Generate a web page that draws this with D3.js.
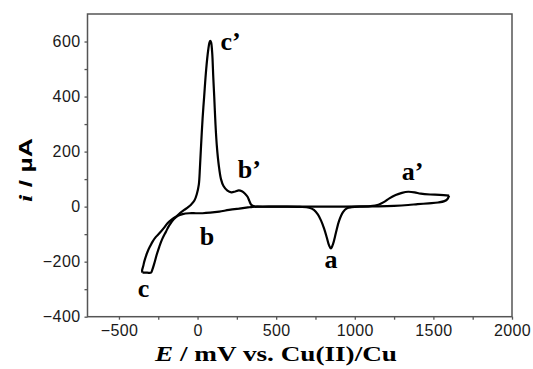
<!DOCTYPE html>
<html>
<head>
<meta charset="utf-8">
<script src="https://cdn.jsdelivr.net/npm/d3@7"></script>
<style>
  html, body { margin: 0; padding: 0; background: #fff; }
  svg { display: block; }
</style>
</head>
<body>
<svg id="chart" width="533" height="369"></svg>
<script>
// Cyclic voltammogram of Cu deposition / stripping (E in mV vs. Cu(II)/Cu, i in µA)

// Cathodic sweep: from the positive vertex down to the negative vertex
const cathodicE = [1600, 1590, 1570, 1530, 1470, 1400, 1340, 1250, 1150, 1050, 980, 950, 925, 900, 880, 862, 848, 836, 822, 805, 785, 765, 740, 710, 650, 550, 450, 380, 350, 320, 265, 200, 138, 80, 32, -10, -53, -95, -125, -150, -180, -201, -225, -243, -260, -275, -287, -296, -320, -350];
const cathodicI = [40, 28, 20, 15, 12, 9, 6, 3, 1, 0, -2, -6, -20, -52, -95, -135, -152, -140, -112, -80, -50, -28, -12, -4, -1, 0, 0, 0, -1, -3, -7, -12, -18, -22, -24, -24, -24, -27, -33, -45, -68, -91, -118, -145, -175, -206, -228, -240, -240, -240];

// Anodic sweep: back from the negative vertex to the positive vertex
const anodicE = [-350, -353, -345, -339, -318, -300, -286, -265, -243, -215, -191, -165, -137, -110, -85, -60, -40, -20, -5, 8, 15, 22, 32, 42, 55, 68, 76, 81, 86, 93, 100, 106, 114, 123, 135, 149, 165, 190, 215, 240, 262, 282, 302, 318, 330, 340, 355, 380, 500, 700, 900, 1050, 1100, 1150, 1190, 1220, 1260, 1300, 1340, 1380, 1420, 1480, 1540, 1600];
const anodicI = [-240, -232, -215, -200, -164, -142, -127, -110, -97, -78, -60, -47, -36, -23, -12, -2, 8, 22, 45, 80, 140, 218, 320, 400, 500, 570, 597, 602, 597, 560, 470, 400, 300, 218, 150, 100, 75, 58, 52, 55, 59, 56, 47, 36, 20, 8, 2, 0, 0, 0, 0, 1, 2, 7, 18, 30, 42, 50, 54, 52, 47, 44, 43, 40];

// Axis ticks
const xTickValues = [-500, 0, 500, 1000, 1500, 2000];
const xMinorValues = [-250, 250, 750, 1250, 1750];
const yTickValues = [-400, -200, 0, 200, 400, 600];
const yMinorValues = [-300, -100, 100, 300, 500];

// Peak labels and their anchor points (E, i)
const peakLabels = ["c", "b", "a", "c\u2019", "b\u2019", "a\u2019"];
const labelE = [-381, 14, 808, 146, 256, 1298];
const labelI = [-328, -139, -223, 569, 104, 97];

const svg = d3.select("#chart");
const plotLeft = 87.5, plotRight = 512, plotTop = 14, plotBottom = 316.7;

const x = d3.scaleLinear().domain([-700, 2000]).range([plotLeft, plotRight]);
const y = d3.scaleLinear().domain([-400, 700]).range([plotBottom, plotTop]);

const axisColor = "#555";

// Frame
svg.append("rect")
  .attr("x", plotLeft).attr("y", plotTop)
  .attr("width", plotRight - plotLeft).attr("height", plotBottom - plotTop)
  .attr("fill", "none").attr("stroke", axisColor).attr("stroke-width", 1.5);

// Bottom axis
svg.append("g").attr("transform", `translate(0,${plotBottom})`)
  .call(d3.axisBottom(x).tickValues(xTickValues).tickSize(3).tickPadding(5).tickFormat(d3.format("d")));
svg.append("g").attr("transform", `translate(0,${plotBottom})`)
  .call(d3.axisBottom(x).tickValues(xMinorValues).tickSize(3).tickFormat(""));

// Left axis
svg.append("g").attr("transform", `translate(${plotLeft},0)`)
  .call(d3.axisLeft(y).tickValues(yTickValues).tickSize(3).tickPadding(4).tickFormat(d3.format("d")));
svg.append("g").attr("transform", `translate(${plotLeft},0)`)
  .call(d3.axisLeft(y).tickValues(yMinorValues).tickSize(3).tickFormat(""));

svg.selectAll(".domain").remove();
svg.selectAll(".tick line").attr("stroke", axisColor).attr("stroke-width", 1.3);
svg.selectAll(".tick text")
  .attr("font-family", "Liberation Sans, Arial, sans-serif")
  .attr("font-size", 16)
  .attr("letter-spacing", 0.4)
  .attr("fill", "#1a1a1a");

// Voltammogram trace
const line = d3.line()
  .x(d => x(d[0]))
  .y(d => y(d[1]))
  .curve(d3.curveCatmullRom.alpha(0.5));

const cathodic = cathodicE.map((e, k) => [e, cathodicI[k]]);
const anodic = anodicE.map((e, k) => [e, anodicI[k]]);

[cathodic, anodic].forEach(sweep => {
  svg.append("path").datum(sweep)
    .attr("d", line).attr("fill", "none")
    .attr("stroke", "#000").attr("stroke-width", 2.2).attr("stroke-linejoin", "round");
});

// Peak labels
svg.append("g")
  .attr("font-family", "Liberation Serif, Times New Roman, serif")
  .attr("font-weight", "bold")
  .attr("font-size", 26)
  .attr("fill", "#000")
  .selectAll("text")
  .data(peakLabels)
  .join("text")
  .attr("x", (d, k) => x(labelE[k]))
  .attr("y", (d, k) => y(labelI[k]))
  .text(d => d);

// Axis titles
const xt = svg.append("text")
  .attr("x", 155).attr("y", 361)
  .attr("textLength", 242).attr("lengthAdjust", "spacingAndGlyphs")
  .attr("font-family", "Liberation Serif, Times New Roman, serif")
  .attr("font-weight", "bold").attr("font-size", 22).attr("fill", "#000");
xt.append("tspan").attr("font-style", "italic").text("E");
xt.append("tspan").text(" / mV vs. Cu(II)/Cu");

const yt = svg.append("text")
  .attr("transform", "translate(32,202) rotate(-90)")
  .attr("textLength", 64).attr("lengthAdjust", "spacingAndGlyphs")
  .attr("font-family", "Liberation Sans, Arial, sans-serif")
  .attr("font-weight", "bold").attr("font-size", 19).attr("fill", "#000");
yt.append("tspan").attr("font-family", "Liberation Serif, Times New Roman, serif").attr("font-style", "italic").text("i");
yt.append("tspan").text(" / \u00b5A");
</script>
</body>
</html>
